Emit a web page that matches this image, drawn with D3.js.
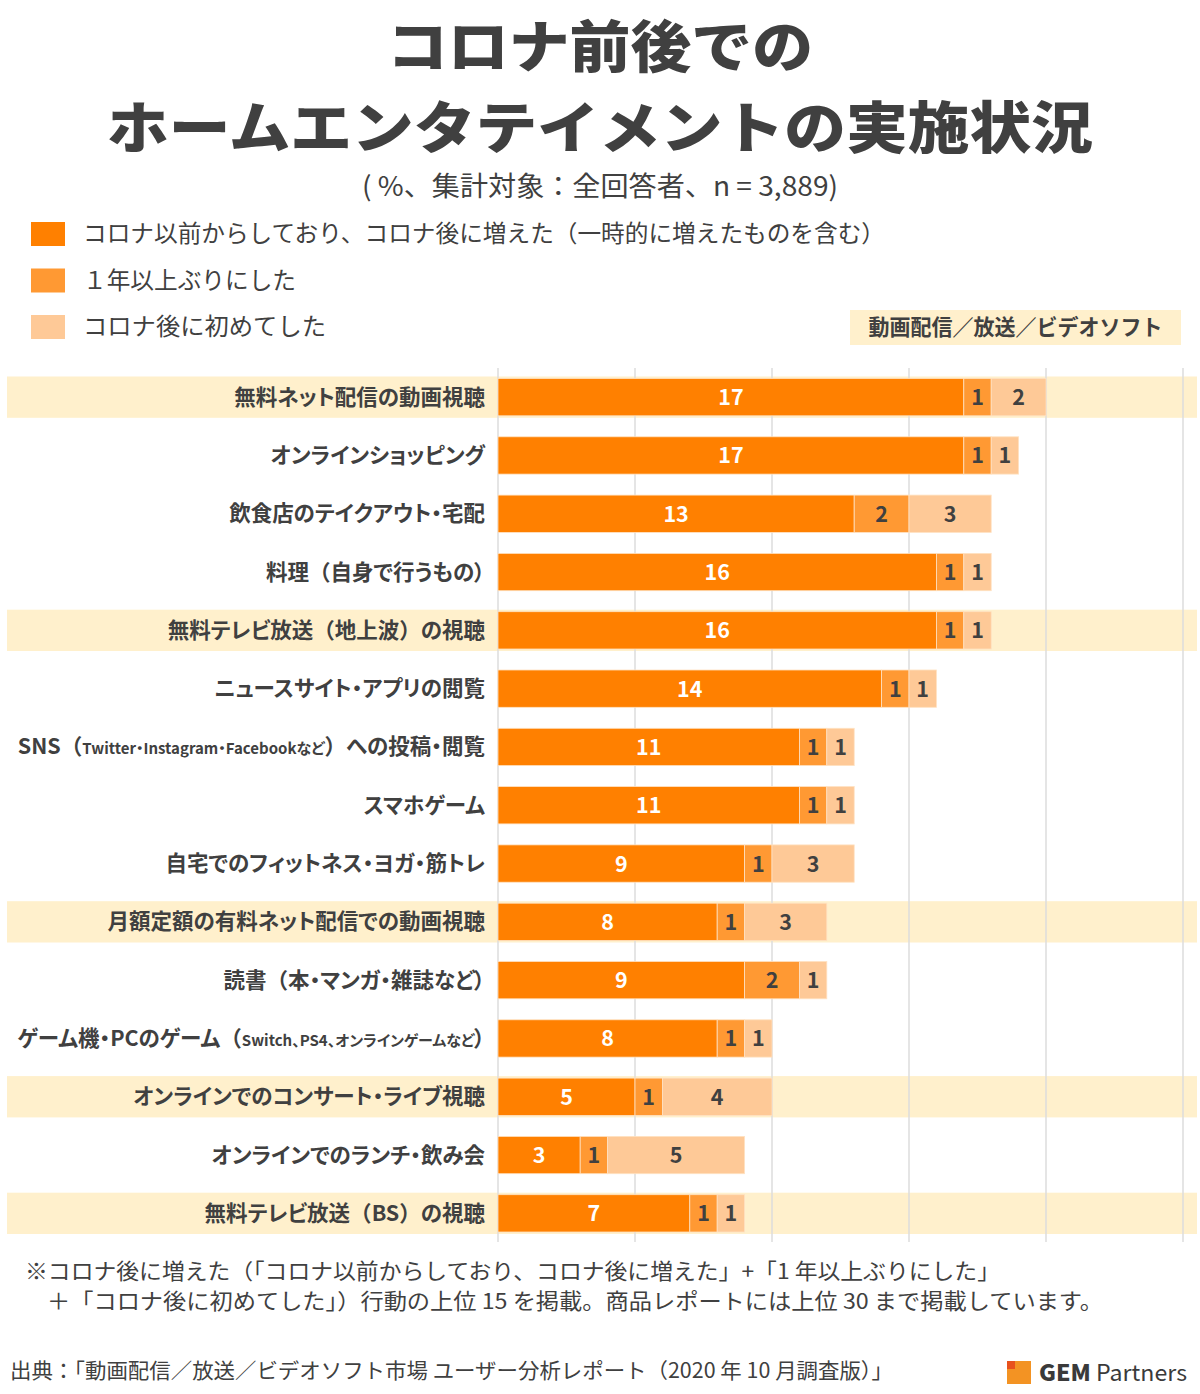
<!DOCTYPE html>
<html lang="ja">
<head>
<meta charset="utf-8">
<script src="https://cdn.jsdelivr.net/npm/d3@7"></script>
<style>
  html, body { margin: 0; padding: 0; background: #fff; }
  svg { display: block; }
  text { font-family: "Noto Sans CJK JP", "Noto Sans", sans-serif; }
</style>
</head>
<body>
<svg id="chart" width="1200" height="1394"></svg>
<script>
// ---------- data ----------
const categories = [
  "無料ネット配信の動画視聴",
  "オンラインショッピング",
  "飲食店のテイクアウト・宅配",
  "料理（自身で行うもの）",
  "無料テレビ放送（地上波）の視聴",
  "ニュースサイト・アプリの閲覧",
  "SNS（{Twitter・Instagram・Facebookなど}）への投稿・閲覧",
  "スマホゲーム",
  "自宅でのフィットネス・ヨガ・筋トレ",
  "月額定額の有料ネット配信での動画視聴",
  "読書（本・マンガ・雑誌など）",
  "ゲーム機・PCのゲーム（{Switch、PS4、オンラインゲームなど}）",
  "オンラインでのコンサート・ライブ視聴",
  "オンラインでのランチ・飲み会",
  "無料テレビ放送（BS）の視聴"
];
const videoCategories = [
  "無料ネット配信の動画視聴",
  "無料テレビ放送（地上波）の視聴",
  "月額定額の有料ネット配信での動画視聴",
  "オンラインでのコンサート・ライブ視聴",
  "無料テレビ放送（BS）の視聴"
];
const seriesNames = [
  "コロナ以前からしており、コロナ後に増えた（一時的に増えたものを含む）",
  "１年以上ぶりにした",
  "コロナ後に初めてした"
];
const increasedBefore = [17, 17, 13, 16, 16, 14, 11, 11, 9, 8, 9, 8, 5, 3, 7];
const afterOverYear   = [1, 1, 2, 1, 1, 1, 1, 1, 1, 1, 2, 1, 1, 1, 1];
const firstTime       = [2, 1, 3, 1, 1, 1, 1, 1, 3, 3, 1, 1, 4, 5, 1];
const xTicks = [0, 5, 10, 15, 20, 25];

const titleLines = ["コロナ前後での", "ホームエンタテイメントの実施状況"];
const subtitle = "( %、集計対象：全回答者、n = 3,889)";
const groupLabel = "動画配信／放送／ビデオソフト";
const noteLines = [
  "※コロナ後に増えた（「コロナ以前からしており、コロナ後に増えた」+「1 年以上ぶりにした」",
  "＋「コロナ後に初めてした」）行動の上位 15 を掲載。商品レポートには上位 30 まで掲載しています。"
];
const sourceText = "出典：「動画配信／放送／ビデオソフト市場 ユーザー分析レポート（2020 年 10 月調査版）」";

// ---------- setup ----------
const colors = ["#ff8000", "#ff9933", "#fec997"];
const textDark = "#404040";
const svg = d3.select("#chart");

const rows = categories.map((c, i) => ({
  cat: c,
  vals: [increasedBefore[i], afterOverYear[i], firstTime[i]]
}));
const stack = d3.stack().keys([0, 1, 2]).value((d, k) => d.vals[k]);
const series = stack(rows);

const x = d3.scaleLinear().domain([0, 25]).range([498, 1183]);
const y = d3.scaleBand().domain(categories).range([368, 1242.5])
  .paddingInner(0.36).paddingOuter(0.18);

// ---------- title ----------
const titleWidths = [426, 986];
svg.append("g").selectAll("text").data(titleLines).join("text")
  .attr("x", 600).attr("y", (d, i) => 67 + i * 81)
  .attr("text-anchor", "middle")
  .attr("font-size", 55.5).attr("font-weight", 900)
  .attr("textLength", (d, i) => titleWidths[i]).attr("lengthAdjust", "spacingAndGlyphs")
  .attr("fill", textDark)
  .text(d => d);

svg.append("text").attr("x", 600).attr("y", 196)
  .attr("text-anchor", "middle").attr("font-size", 27)
  .attr("textLength", 476).attr("lengthAdjust", "spacingAndGlyphs")
  .attr("fill", textDark).text(subtitle);

// ---------- legend ----------
const legendWidths = [802, 213, 243];
const leg = svg.append("g").selectAll("g").data(seriesNames).join("g")
  .attr("transform", (d, i) => `translate(31, ${222 + i * 46.5})`);
leg.append("rect").attr("width", 34).attr("height", 24).attr("fill", (d, i) => colors[i]);
leg.append("text").attr("x", 52).attr("y", 20).attr("font-size", 23.5)
  .attr("fill", textDark)
  .attr("textLength", (d, i) => legendWidths[i]).attr("lengthAdjust", "spacingAndGlyphs")
  .text(d => d);

// group box
svg.append("rect").attr("x", 850).attr("y", 310).attr("width", 331).attr("height", 35).attr("fill", "#fff0cc");
svg.append("text").attr("x", 1015.5).attr("y", 335).attr("text-anchor", "middle")
  .attr("font-size", 22).attr("font-weight", 700).attr("fill", textDark)
  .attr("textLength", 294).attr("lengthAdjust", "spacingAndGlyphs")
  .text(groupLabel);

// ---------- highlight bands ----------
svg.append("g").selectAll("rect").data(categories.filter(c => videoCategories.includes(c))).join("rect")
  .attr("x", 7).attr("width", 1190)
  .attr("y", d => y(d) - 2).attr("height", y.bandwidth() + 4)
  .attr("fill", "#fff0cc");

// ---------- gridlines ----------
svg.append("g").selectAll("line").data(xTicks).join("line")
  .attr("x1", d => x(d)).attr("x2", d => x(d))
  .attr("y1", 368).attr("y2", 1242)
  .attr("stroke", "#dcdcdc").attr("stroke-width", 1.5);

// ---------- bars ----------
const segG = svg.append("g").selectAll("g").data(series).join("g")
  .attr("fill", (d, i) => colors[i]);
segG.selectAll("rect").data(d => d).join("rect")
  .attr("x", d => x(d[0]))
  .attr("width", d => x(d[1]) - x(d[0]))
  .attr("y", d => y(d.data.cat))
  .attr("height", y.bandwidth())
  .attr("stroke", "#ffe2c2").attr("stroke-width", 0.8);

// value labels
const labG = svg.append("g").selectAll("g").data(series).join("g");
labG.selectAll("text").data((d, si) => d.map(p => ({p, si}))).join("text")
  .attr("x", d => (x(d.p[0]) + x(d.p[1])) / 2)
  .attr("y", d => y(d.p.data.cat) + y.bandwidth() / 2 + 8)
  .attr("text-anchor", "middle")
  .attr("font-family", "'DejaVu Sans', Verdana, sans-serif")
  .attr("font-size", 21.5).attr("font-weight", 700)
  .attr("fill", d => d.si === 0 ? "#ffffff" : textDark)
  .text(d => d.p.data.vals[d.si]);

// ---------- category labels ----------
const bigSize = 21.5, smallSize = 15;
const catText = svg.append("g").selectAll("text").data(categories).join("text")
  .attr("x", 485)
  .attr("y", d => y(d) + y.bandwidth() / 2 + 7.5)
  .attr("text-anchor", "end")
  .attr("font-weight", 700)
  .attr("fill", textDark);
catText.each(function(d) {
  const t = d3.select(this);
  // split into runs: small (inside braces) / paren (full-width) / normal (proportional)
  const clean = d.replace(/[{}]/g, "");
  let runs = [], small = false, idx = 0;
  for (const ch of d) {
    if (ch === "{") { small = true; continue; }
    if (ch === "}") { small = false; continue; }
    idx++;
    const isParen = (ch === "（" || ch === "）") && idx < clean.length;
    const key = (small ? "s" : "b") + (isParen ? "p" : "n");
    if (runs.length && runs[runs.length - 1].key === key) runs[runs.length - 1].txt += ch;
    else runs.push({key, txt: ch, small, isParen});
  }
  runs.forEach(r => {
    t.append("tspan")
      .attr("font-size", r.small ? smallSize : bigSize)
      .style("font-feature-settings", r.isParen ? "normal" : "'palt'")
      .text(r.txt);
  });
});

// ---------- notes ----------
svg.append("text").attr("x", 25).attr("y", 1279).attr("font-size", 21.5)
  .attr("textLength", 975).attr("lengthAdjust", "spacingAndGlyphs")
  .attr("fill", textDark).text(noteLines[0]);
svg.append("text").attr("x", 47).attr("y", 1309).attr("font-size", 21.5)
  .attr("textLength", 1056).attr("lengthAdjust", "spacingAndGlyphs")
  .attr("fill", textDark).text(noteLines[1]);
svg.append("text").attr("x", 10).attr("y", 1378).attr("font-size", 21)
  .attr("textLength", 883).attr("lengthAdjust", "spacingAndGlyphs")
  .attr("fill", textDark).text(sourceText);

// ---------- logo ----------
svg.append("rect").attr("x", 1007).attr("y", 1361).attr("width", 24).attr("height", 23).attr("fill", "#f39323");
svg.append("rect").attr("x", 1007).attr("y", 1361).attr("width", 8).attr("height", 8).attr("fill", "#e8521d");
const logo = svg.append("text").attr("x", 1039).attr("y", 1381)
  .attr("font-family", "'Open Sans', 'Noto Sans', sans-serif")
  .attr("font-size", 22.5).attr("fill", "#3a3a3a")
  .attr("textLength", 148).attr("lengthAdjust", "spacingAndGlyphs");
logo.append("tspan").attr("font-weight", 800).text("GEM");
logo.append("tspan").attr("font-weight", 400).text(" Partners");
</script>
</body>
</html>
